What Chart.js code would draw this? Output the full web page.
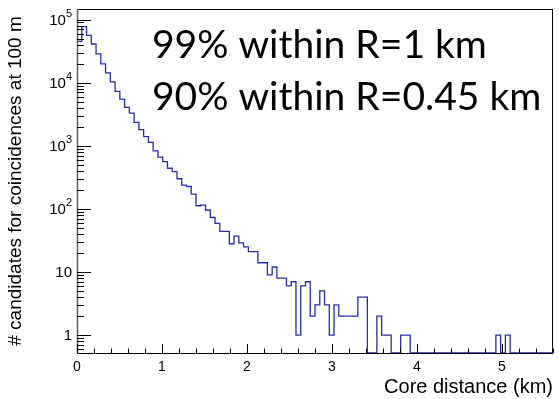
<!DOCTYPE html>
<html><head><meta charset="utf-8">
<script src="https://cdn.jsdelivr.net/npm/chart.js@4/dist/chart.umd.min.js"></script>
<style>html,body{margin:0;padding:0;background:#fff;}#wrap{width:559px;height:399px;position:relative;}</style>
</head><body><div id="wrap"><canvas id="c" width="559" height="399"></canvas></div>
<script>
// ---- data ----
const BIN_WIDTH = 0.056; // km, 100 bins from 0 to 5.6 km
const BIN_COUNTS = [
  45000, 77000, 56000, 41000, 28500, 19800, 14300, 10300, 7300, 5500,
  4050, 3300, 2340, 1800, 1400, 1130, 830, 660, 560, 440,
  390, 300, 238, 226, 171, 112, 115, 96, 73, 59,
  44, 44, 28, 37, 29, 25, 21, 21, 14, 14,
  9, 12, 8, 8, 6, 7, 1, 6, 7, 2,
  3, 5, 3, 1, 3, 2, 2, 2, 2, 4,
  4, 0, 0, 2, 1, 1, 0, 0, 1, 1,
  0, 0, 0, 0, 0, 0, 0, 0, 0, 0,
  0, 0, 0, 0, 0, 0, 0, 0, 1, 0,
  1, 0, 0, 0, 0, 0, 0, 0, 0, 0
];
const X_TICK_LABELS = ['0', '1', '2', '3', '4', '5'];
const Y_TICK_VALUES = [1, 10, 100, 1000, 10000, 100000];
const Y_TICK_BASE = ['1', '10', '10', '10', '10', '10'];
const Y_TICK_EXP = ['', '', '2', '3', '4', '5'];
const ANNOTATIONS = ['99% within R=1 km', '90% within R=0.45 km'];
const X_TITLE = 'Core distance (km)';
const Y_TITLE = '# candidates for coincidences at 100 m';
const X_MIN = 0, X_MAX = 5.6, Y_MIN = 0.52, Y_MAX = 1.47e5;

// ---- build dataset ----
const points = BIN_COUNTS.map((v, i) => ({ x: +(i * BIN_WIDTH).toFixed(4), y: v > 0 ? v : Y_MIN }));
points.push({ x: X_MAX, y: points[points.length - 1].y });

const FONT = 'Liberation Sans';

const framePlugin = {
  id: 'frame',
  afterDraw(chart) {
    const { ctx, chartArea: a, scales: { x, y } } = chart;
    ctx.save();
    // frame
    ctx.strokeStyle = '#000';
    ctx.lineWidth = 1;
    ctx.strokeRect(Math.round(a.left) + 0.5, Math.round(a.top) + 0.5, Math.round(a.right - a.left) - 1, Math.round(a.bottom - a.top));
    ctx.strokeStyle = '#666';
    ctx.lineWidth = 1.6;
    ctx.beginPath(); ctx.moveTo(a.left + 0.5, a.top); ctx.lineTo(a.left + 0.5, a.bottom + 1); ctx.stroke();
    // y ticks
    ctx.strokeStyle = '#000';
    ctx.lineWidth = 1;
    y.ticks.forEach(t => {
      const py = Math.round(y.getPixelForValue(t.value)) + 0.5;
      const major = Y_TICK_VALUES.includes(t.value);
      const len = major ? 14 : 7;
      ctx.beginPath(); ctx.moveTo(a.left, py); ctx.lineTo(a.left + len, py); ctx.stroke();
    });
    // x ticks
    x.ticks.forEach(t => {
      const px = Math.round(x.getPixelForValue(t.value)) + 0.5;
      const major = Math.abs(t.value - Math.round(t.value)) < 1e-6;
      const len = major ? 9 : 4.5;
      ctx.beginPath(); ctx.moveTo(px, a.bottom); ctx.lineTo(px, a.bottom - len); ctx.stroke();
    });
    // y labels with exponents
    ctx.fillStyle = '#000';
    ctx.textBaseline = 'middle';
    Y_TICK_VALUES.forEach((v, i) => {
      const py = y.getPixelForValue(v);
      const right = a.left - 5;
      ctx.font = `11px ${FONT}`;
      const ew = Y_TICK_EXP[i] ? ctx.measureText(Y_TICK_EXP[i]).width : 0;
      if (Y_TICK_EXP[i]) {
        ctx.textAlign = 'right';
        ctx.fillText(Y_TICK_EXP[i], right, py - 6);
      }
      ctx.font = `15px ${FONT}`;
      ctx.textAlign = 'right';
      ctx.fillText(Y_TICK_BASE[i], right - ew, py + 1);
    });
    // annotation text
    const probe = 'Lato';
    ctx.font = `43px ${probe}`;
    const w0 = ctx.measureText(ANNOTATIONS[0]).width;
    const size = 43 * 335 / w0;
    ctx.font = `${size.toFixed(2)}px ${probe}`;
    ctx.textAlign = 'left';
    ctx.textBaseline = 'alphabetic';
    ctx.fillStyle = '#000';
    ctx.fillText(ANNOTATIONS[0], 152, 58);
    ctx.fillText(ANNOTATIONS[1], 152, 110);
    ctx.restore();
  }
};

new Chart(document.getElementById('c'), {
  type: 'line',
  data: {
    datasets: [{
      data: points,
      stepped: 'before',
      borderColor: '#2a2ab0',
      borderWidth: 1.3,
      pointRadius: 0,
      fill: false,
      tension: 0,
      clip: 3
    }]
  },
  options: {
    responsive: false,
    animation: false,
    events: [],
    plugins: { legend: { display: false }, tooltip: { enabled: false } },
    layout: { padding: { left: 0, right: 3, top: 9, bottom: 0 } },
    scales: {
      x: {
        type: 'linear', min: X_MIN, max: X_MAX,
        grid: { display: false, drawTicks: false },
        border: { display: false },
        afterBuildTicks: s => {
          const t = [];
          for (let i = 0; i <= 28; i++) t.push({ value: +(i * 0.2).toFixed(2) });
          s.ticks = t;
        },
        afterFit: s => { s.height = 46; },
        ticks: {
          autoSkip: false, maxRotation: 0, minRotation: 0, padding: 6, color: '#000',
          font: { family: FONT, size: 14 },
          callback: v => {
            const r = Math.round(v);
            return Math.abs(v - r) < 1e-6 && r < X_TICK_LABELS.length ? X_TICK_LABELS[r] : '';
          }
        },
        title: { display: true, text: X_TITLE, align: 'end', color: '#000', font: { family: FONT, size: 20 }, padding: { top: 0, bottom: 0 } }
      },
      y: {
        type: 'logarithmic', min: Y_MIN, max: Y_MAX,
        grid: { display: false, drawTicks: false },
        border: { display: false },
        afterBuildTicks: s => {
          const t = [];
          for (let e = -1; e <= 5; e++) for (let m = 1; m <= 9; m++) {
            const v = +(m * Math.pow(10, e)).toPrecision(6);
            if (v >= Y_MIN && v <= Y_MAX) t.push({ value: v });
          }
          s.ticks = t;
        },
        afterFit: s => { s.width = 77; },
        ticks: { display: false },
        title: { display: true, text: Y_TITLE, color: '#000', font: { family: FONT, size: 19 }, padding: { top: 4, bottom: 0 } }
      }
    }
  },
  plugins: [framePlugin]
});
</script></body></html>
